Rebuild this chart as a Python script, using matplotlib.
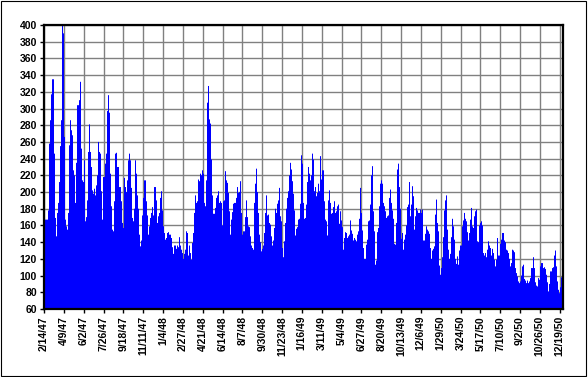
import matplotlib
matplotlib.use('Agg')
import matplotlib.pyplot as plt
import matplotlib.dates as mdates
from matplotlib.patches import Rectangle
import pandas as pd
from datetime import datetime

# values, one per plotted column, split by year
vals_1947 = [195, 167, 167, 167, 178, 258, 286, 317, 335, 335, 246, 169, 147, 175, 187, 212, 255, 286, 405, 390,
             266, 167, 159, 155, 175, 256, 286, 274, 268, 226, 220, 187, 235, 304, 304, 310, 332, 252, 214, 212,
             238, 165, 170, 190, 248, 281, 248, 230, 202, 198, 204, 196, 208, 220, 260, 248, 246, 201, 167, 218,
             218, 234, 246, 297, 316, 295, 222, 183, 155, 153, 189, 246, 247, 230, 230, 206,
             206, 189, 163, 157, 217, 206, 200, 214, 238, 246, 238, 205, 169, 165, 180, 238, 222, 196, 180, 149,
             135, 142, 172, 193, 214, 214, 189, 172, 149, 159, 169, 175, 182, 172, 206, 206, 190, 163, 171, 175,
             193, 201]
vals_1948 = [178, 159, 151, 143, 145, 151, 152, 149,
             149, 145, 134, 126, 136, 136, 132, 136, 134, 146, 136, 131, 127, 120, 126, 131, 153, 151, 124, 136,
             127, 119, 139, 151, 175, 196, 187, 189, 215, 213, 222, 220, 226, 222, 187, 183, 214, 307, 327, 287,
             282, 239, 196, 174, 174, 181, 193, 196, 201, 187, 189, 187, 160, 189, 190, 225, 214, 211, 199, 177,
             149, 167, 176, 186, 187, 187, 193, 206, 199, 200, 213, 175, 149, 153, 153, 170, 190, 170, 159, 158,
             147, 136, 133, 131, 187, 210, 228, 200, 175, 149, 140, 129, 132, 136, 151, 175, 196, 172, 173, 163,
             161, 147, 136, 142, 157, 180, 175, 186, 190, 205, 171, 165, 133, 122, 141, 163, 180, 193, 201, 220,
             235, 227, 213, 198, 178, 148]
vals_1949 = [156, 158, 167, 168,
             186, 244, 234, 187, 168, 169, 185, 212, 230, 222, 214, 220, 246, 239, 201, 206, 195, 199, 210, 201,
             243, 215, 226, 226, 189, 167, 165, 148, 190, 202, 187, 174, 175, 182, 189, 175, 177, 183, 185, 162,
             177, 166, 158, 131, 145, 152, 151, 145, 147, 149, 166, 154, 150, 142, 145, 143, 141, 149, 153, 168,
             205, 175, 154, 133, 120, 120, 137, 143, 165, 166, 185, 220, 231, 177, 153, 113, 118, 152, 157, 183,
             210, 214, 210, 187, 183, 177, 169, 171, 172, 193, 203, 187, 178, 168, 138, 137, 163, 227, 234, 206,
             180, 144, 151, 131, 143, 149, 160, 182, 185, 212, 171, 185, 207, 195, 155, 171, 181, 178, 175, 175,
             179, 175, 179, 142, 142, 150, 159, 155, 153, 150]
vals_1950 = [133, 120, 130, 132, 135, 173, 191, 163, 153, 112, 101, 109, 122, 146, 178, 190, 196, 155, 131, 120,
             126, 146, 168, 159, 143, 120, 114, 123, 113, 130, 136, 136, 159, 166, 175, 168, 165, 152, 142, 151,
             167, 181, 159, 157, 171, 177, 179, 141, 140, 160, 163, 165, 160, 127, 124, 127, 122, 131, 141, 136,
             133, 124, 132, 127, 119, 111, 119, 145, 124, 124, 138, 143, 151, 151, 142, 140, 131, 130, 127, 120,
             111, 115, 131, 130, 128, 109, 103, 99, 93, 91, 93, 100, 111, 113, 96, 94, 91, 94, 91, 93,
             97, 109, 109, 122, 109, 92, 88, 87, 97, 95, 111, 115, 115, 109, 110, 108, 101, 92, 81, 90,
             105, 105, 109, 110, 124, 130, 111, 93, 83, 79, 86, 98, 98]

first_day = '1947-02-14'
last_day = '1950-12-28'

tick_labels = ['2/14/47', '4/9/47', '6/2/47', '7/26/47', '9/18/47', '11/11/47', '1/4/48', '2/27/48',
               '4/21/48', '6/14/48', '8/7/48', '9/30/48', '11/23/48', '1/16/49', '3/11/49', '5/4/49',
               '6/27/49', '8/20/49', '10/13/49', '12/6/49', '1/29/50', '3/24/50', '5/17/50', '7/10/50',
               '9/2/50', '10/26/50', '12/19/50']
y_ticks = list(range(60, 401, 20))

values = vals_1947 + vals_1948 + vals_1949 + vals_1950


def parse_label(s):
    m, d, y = (int(p) for p in s.split('/'))
    return datetime(1900 + y, m, d)


plt.rcParams['font.family'] = ['Liberation Sans', 'DejaVu Sans']

fig = plt.figure(figsize=(5.88, 3.77), dpi=100)
fig.patch.set_facecolor('white')
ax = fig.add_axes([44 / 588, 1 - 309 / 377, (563 - 44) / 588, (309 - 25) / 377])

edges = mdates.date2num(pd.date_range(first_day, last_day, periods=len(values) + 1).to_pydatetime())
ax.stairs(values, edges, baseline=0, fill=True, color='#0000FF', linewidth=0, zorder=2)

ax.set_xlim(edges[0], edges[-1])
ax.set_ylim(60, 400)
ax.set_yticks(y_ticks)
ax.set_xticks(mdates.date2num([parse_label(s) for s in tick_labels]))
ax.set_xticklabels(tick_labels, rotation=90)

ax.set_axisbelow(True)
ax.grid(True, color='#808080', linewidth=1.0)
for sp in ax.spines.values():
    sp.set_color('black')
    sp.set_linewidth(1.6)
ax.tick_params(direction='out', length=3, width=1, labelsize=7.5, pad=2, colors='black')
for lbl in ax.get_xticklabels() + ax.get_yticklabels():
    lbl.set_fontweight('bold')

# thin frame around the whole picture
fig.patches.append(Rectangle((1 / 588, 1 / 377), 585 / 588, 375 / 377, transform=fig.transFigure,
                             fill=False, edgecolor='black', linewidth=0.8))

fig.savefig('out.png', dpi=100)
